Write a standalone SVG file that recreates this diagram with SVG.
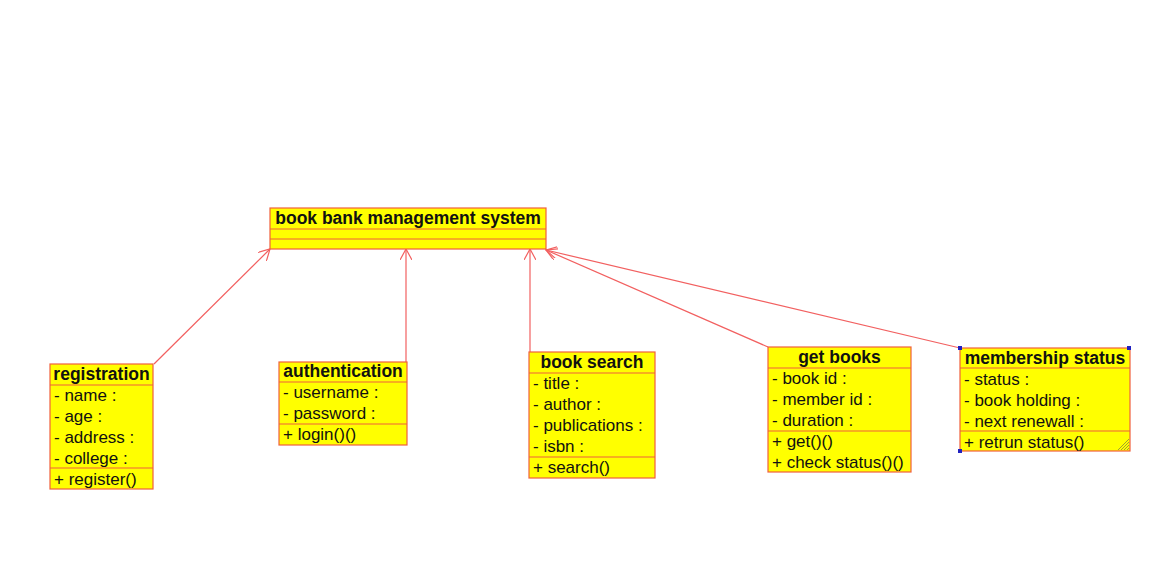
<svg xmlns="http://www.w3.org/2000/svg" width="1161" height="582" viewBox="0 0 1161 582">
<style>
.box{fill:#ffff00;stroke:#f0603c;stroke-width:1.2}
.sep{stroke:#f0603c;stroke-width:1.2}
.t{font-family:"Liberation Sans",Arial,sans-serif;font-size:17px;fill:#111}
.b{font-weight:bold;font-size:17.5px;text-anchor:middle}
.con{stroke:#f26060;stroke-width:1.2;fill:none;marker-end:url(#arr)}
.sel{fill:#2020c0}
</style>
<defs>
<marker id="arr" viewBox="0 0 12 12" refX="11" refY="6" markerWidth="12" markerHeight="12" markerUnits="userSpaceOnUse" orient="auto">
<path d="M0,0 L11,6 L0,12" fill="none" stroke="#f26060" stroke-width="1.2"/>
</marker>
</defs>
<rect width="1161" height="582" fill="#ffffff"/>
<g id="connectors">
<line class="con" x1="154" y1="364" x2="270" y2="249"/>
<line class="con" x1="406" y1="362" x2="406" y2="249"/>
<line class="con" x1="530" y1="352" x2="530" y2="249"/>
<line class="con" x1="768" y1="347" x2="546" y2="250"/>
<line class="con" x1="960" y1="348" x2="546" y2="250"/>
</g>
<g id="main">
<rect class="box" x="270" y="208" width="276" height="41"/>
<line class="sep" x1="270" y1="229" x2="546" y2="229"/>
<line class="sep" x1="270" y1="239" x2="546" y2="239"/>
<text class="t b" x="408" y="224">book bank management system</text>
</g>
<g id="registration">
<rect class="box" x="50" y="364" width="103" height="125"/>
<line class="sep" x1="50" y1="385" x2="153" y2="385"/>
<line class="sep" x1="50" y1="468" x2="153" y2="468"/>
<text class="t b" x="101.5" y="380">registration</text>
<text class="t" x="54" y="401">- name :</text>
<text class="t" x="54" y="422">- age :</text>
<text class="t" x="54" y="443">- address :</text>
<text class="t" x="54" y="464">- college :</text>
<text class="t" x="54" y="485">+ register()</text>
</g>
<g id="authentication">
<rect class="box" x="279" y="362" width="128" height="83"/>
<line class="sep" x1="279" y1="382" x2="407" y2="382"/>
<line class="sep" x1="279" y1="424" x2="407" y2="424"/>
<text class="t b" x="343" y="377">authentication</text>
<text class="t" x="283" y="398">- username :</text>
<text class="t" x="283" y="419">- password :</text>
<text class="t" x="283" y="440">+ login()()</text>
</g>
<g id="book-search">
<rect class="box" x="529" y="352" width="126" height="126"/>
<line class="sep" x1="529" y1="373" x2="655" y2="373"/>
<line class="sep" x1="529" y1="457" x2="655" y2="457"/>
<text class="t b" x="592" y="368">book search</text>
<text class="t" x="533" y="389">- title :</text>
<text class="t" x="533" y="410">- author :</text>
<text class="t" x="533" y="431">- publications :</text>
<text class="t" x="533" y="452">- isbn :</text>
<text class="t" x="533" y="473">+ search()</text>
</g>
<g id="get-books">
<rect class="box" x="768" y="347" width="143" height="125"/>
<line class="sep" x1="768" y1="368" x2="911" y2="368"/>
<line class="sep" x1="768" y1="431" x2="911" y2="431"/>
<text class="t b" x="839.5" y="363">get books</text>
<text class="t" x="772" y="384">- book id :</text>
<text class="t" x="772" y="405">- member id :</text>
<text class="t" x="772" y="426">- duration :</text>
<text class="t" x="772" y="447">+ get()()</text>
<text class="t" x="772" y="468">+ check status()()</text>
</g>
<g id="membership-status">
<rect class="box" x="960" y="348" width="170" height="103"/>
<line class="sep" x1="960" y1="368" x2="1130" y2="368"/>
<line class="sep" x1="960" y1="431" x2="1130" y2="431"/>
<text class="t b" x="1045" y="364">membership status</text>
<text class="t" x="964" y="385">- status :</text>
<text class="t" x="964" y="406">- book holding :</text>
<text class="t" x="964" y="427">- next renewall :</text>
<text class="t" x="964" y="448">+ retrun status()</text>
<g stroke="#a0a030" stroke-width="1">
<line x1="1118" y1="450" x2="1129" y2="439"/>
<line x1="1121" y1="450" x2="1129" y2="442"/>
<line x1="1124" y1="450" x2="1129" y2="445"/>
<line x1="1127" y1="450" x2="1129" y2="448"/>
</g>
<rect class="sel" x="958" y="346" width="4" height="4"/>
<rect class="sel" x="1127" y="346" width="4" height="4"/>
<rect class="sel" x="958" y="449" width="4" height="4"/>
</g>
</svg>
